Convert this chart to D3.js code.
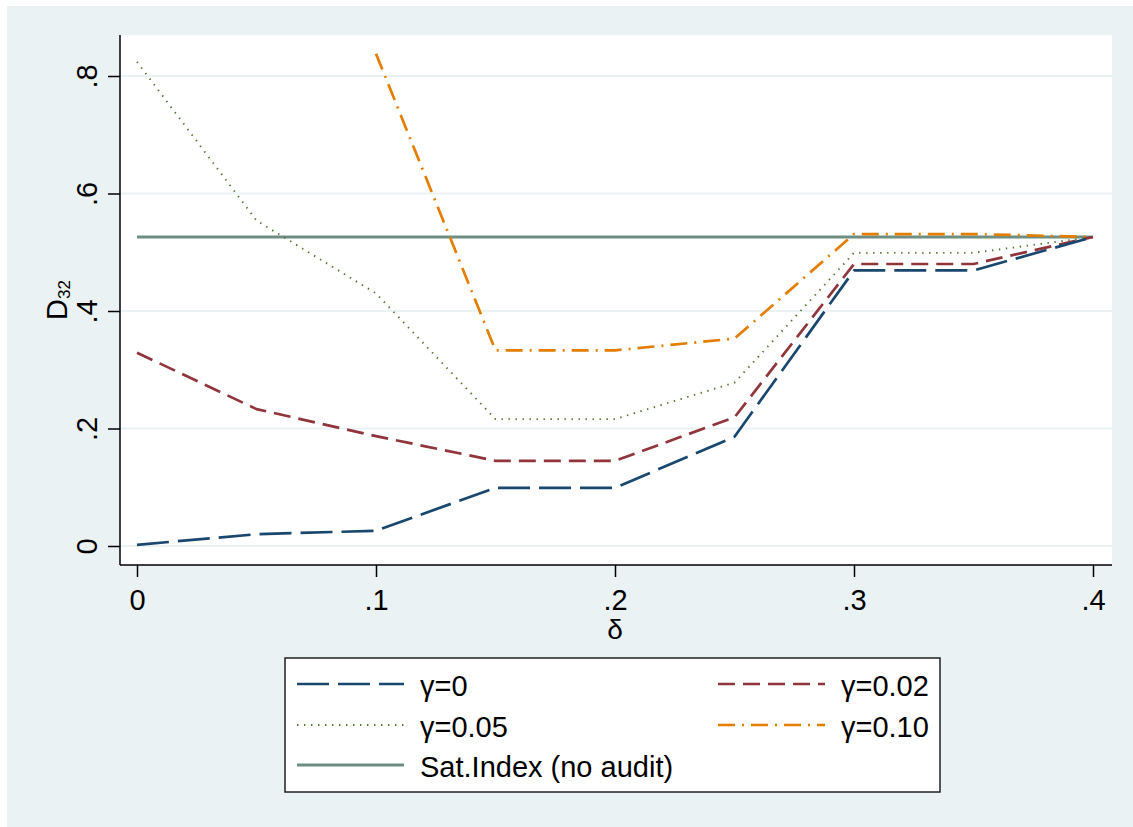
<!DOCTYPE html>
<html>
<head>
<meta charset="utf-8">
<script src="https://cdn.jsdelivr.net/npm/d3@7"></script>
<style>
	html, body { margin: 0; padding: 0; background: #fff; }
	svg { display: block; font-family: "Liberation Sans", Arial, Helvetica, sans-serif; }
</style>
</head>
<body>
<svg id="chart" width="1133" height="827"></svg>
<script>
// delta values on the x axis
var deltas = [0, 0.05, 0.1, 0.15, 0.2, 0.25, 0.3, 0.35, 0.4];

// D32 by gamma
var gamma0   = [0.002, 0.020, 0.026, 0.099, 0.099, 0.186, 0.469, 0.469, 0.526];
var gamma002 = [0.329, 0.233, 0.187, 0.145, 0.145, 0.219, 0.480, 0.480, 0.526];
var gamma005 = [0.824, 0.554, 0.430, 0.216, 0.216, 0.278, 0.499, 0.499, 0.526];
var gamma010 = [null, null, 0.838, 0.333, 0.333, 0.353, 0.531, 0.531, 0.526];
var satIndex = [0.526, 0.526, 0.526, 0.526, 0.526, 0.526, 0.526, 0.526, 0.526];

var seriesNames = ["γ=0", "γ=0.02", "γ=0.05", "γ=0.10", "Sat.Index (no audit)"];
var seriesValues = [gamma0, gamma002, gamma005, gamma010, satIndex];

var xTicks = [0, 0.1, 0.2, 0.3, 0.4];
var yTicks = [0, 0.2, 0.4, 0.6, 0.8];

// stata s2color look
var styles = [
	{ color: "#1a476f", width: 2.7, dash: "32,9" },
	{ color: "#90353b", width: 2.7, dash: "17,8" },
	{ color: "#55752f", width: 1.9, dash: "1.4,5.6" },
	{ color: "#e37e00", width: 2.7, dash: "17,7,2,7" },
	{ color: "#6e8e84", width: 3, dash: null }
];

var svg = d3.select("#chart");
var bg = "#eaf2f3";

// outer background
svg.append("rect").attr("x", 7).attr("y", 6).attr("width", 1126).attr("height", 821).attr("fill", bg);

// plot region
var plot = { left: 120, right: 1112, top: 35, bottom: 565 };
svg.append("rect")
	.attr("x", plot.left).attr("y", plot.top)
	.attr("width", plot.right - plot.left).attr("height", plot.bottom - plot.top)
	.attr("fill", "#fff");

var x = d3.scaleLinear().domain([0, 0.4]).range([137, 1093]);
var y = d3.scaleLinear().domain([0, 0.8]).range([546, 76]);

var fmt = function(d) { return d === 0 ? "0" : d3.format(".1f")(d).replace(/^0/, ""); };

// gridlines
svg.append("g").selectAll("line").data(yTicks).enter().append("line")
	.attr("x1", plot.left).attr("x2", plot.right)
	.attr("y1", function(d) { return y(d); }).attr("y2", function(d) { return y(d); })
	.attr("stroke", bg).attr("stroke-width", 2);

// axes
var xAxis = svg.append("g")
	.attr("transform", "translate(0," + plot.bottom + ")")
	.call(d3.axisBottom(x).tickValues(xTicks).tickFormat(fmt).tickSize(12).tickSizeOuter(0));
xAxis.select(".domain").remove();
xAxis.selectAll(".tick line").attr("stroke", "#000").attr("stroke-width", 1.5);
xAxis.selectAll(".tick text").attr("y", 45).attr("dy", 0)
	.attr("fill", "#000").style("font-size", "29px").style("font-family", null);

var yAxis = svg.append("g")
	.attr("transform", "translate(" + plot.left + ",0)")
	.call(d3.axisLeft(y).tickValues(yTicks).tickFormat(fmt).tickSize(12).tickSizeOuter(0));
yAxis.select(".domain").remove();
yAxis.selectAll(".tick line").attr("stroke", "#000").attr("stroke-width", 1.5);
yAxis.selectAll(".tick text")
	.attr("transform", "rotate(-90)")
	.attr("x", 0).attr("y", -23).attr("dy", 0)
	.style("text-anchor", "middle")
	.attr("fill", "#000").style("font-size", "29px").style("font-family", null);

// axis lines
svg.append("line").attr("x1", plot.left).attr("x2", plot.left).attr("y1", plot.top).attr("y2", plot.bottom)
	.attr("stroke", "#000").attr("stroke-width", 1.5);
svg.append("line").attr("x1", plot.left).attr("x2", plot.right).attr("y1", plot.bottom).attr("y2", plot.bottom)
	.attr("stroke", "#000").attr("stroke-width", 1.5);

// axis titles
svg.append("text")
	.attr("x", x(0.2)).attr("y", 639)
	.attr("text-anchor", "middle")
	.style("font-size", "28px")
	.text("δ");

var yTitle = svg.append("text")
	.attr("transform", "translate(67,300) rotate(-90)")
	.attr("text-anchor", "middle")
	.style("font-size", "29px");
yTitle.append("tspan").text("D");
yTitle.append("tspan").attr("dy", 3).style("font-size", "17px").text("32");

// lines
var line = d3.line()
	.defined(function(d) { return d.v != null; })
	.x(function(d) { return x(d.d); })
	.y(function(d) { return y(d.v); });

var drawOrder = [4, 3, 2, 1, 0];
drawOrder.forEach(function(i) {
	var pts = deltas.map(function(d, j) { return { d: d, v: seriesValues[i][j] }; });
	svg.append("path")
		.datum(pts)
		.attr("fill", "none")
		.attr("stroke", styles[i].color)
		.attr("stroke-width", styles[i].width)
		.attr("stroke-dasharray", styles[i].dash)
		.attr("stroke-linejoin", "round")
		.attr("d", line);
});

// legend
var legend = svg.append("g");
legend.append("rect")
	.attr("x", 285).attr("y", 658).attr("width", 655).attr("height", 134)
	.attr("fill", "#fff").attr("stroke", "#222").attr("stroke-width", 1.5);

var legendPos = [[297, 684], [718, 684], [297, 725], [718, 725], [297, 765]];
seriesNames.forEach(function(name, i) {
	var p = legendPos[i];
	legend.append("line")
		.attr("x1", p[0]).attr("x2", p[0] + 107)
		.attr("y1", p[1]).attr("y2", p[1])
		.attr("stroke", styles[i].color)
		.attr("stroke-width", styles[i].width)
		.attr("stroke-dasharray", styles[i].dash);
	legend.append("text")
		.attr("x", p[0] + 123).attr("y", p[1] + 12)
		.style("font-size", "29px")
		.text(name);
});
</script>
</body>
</html>
